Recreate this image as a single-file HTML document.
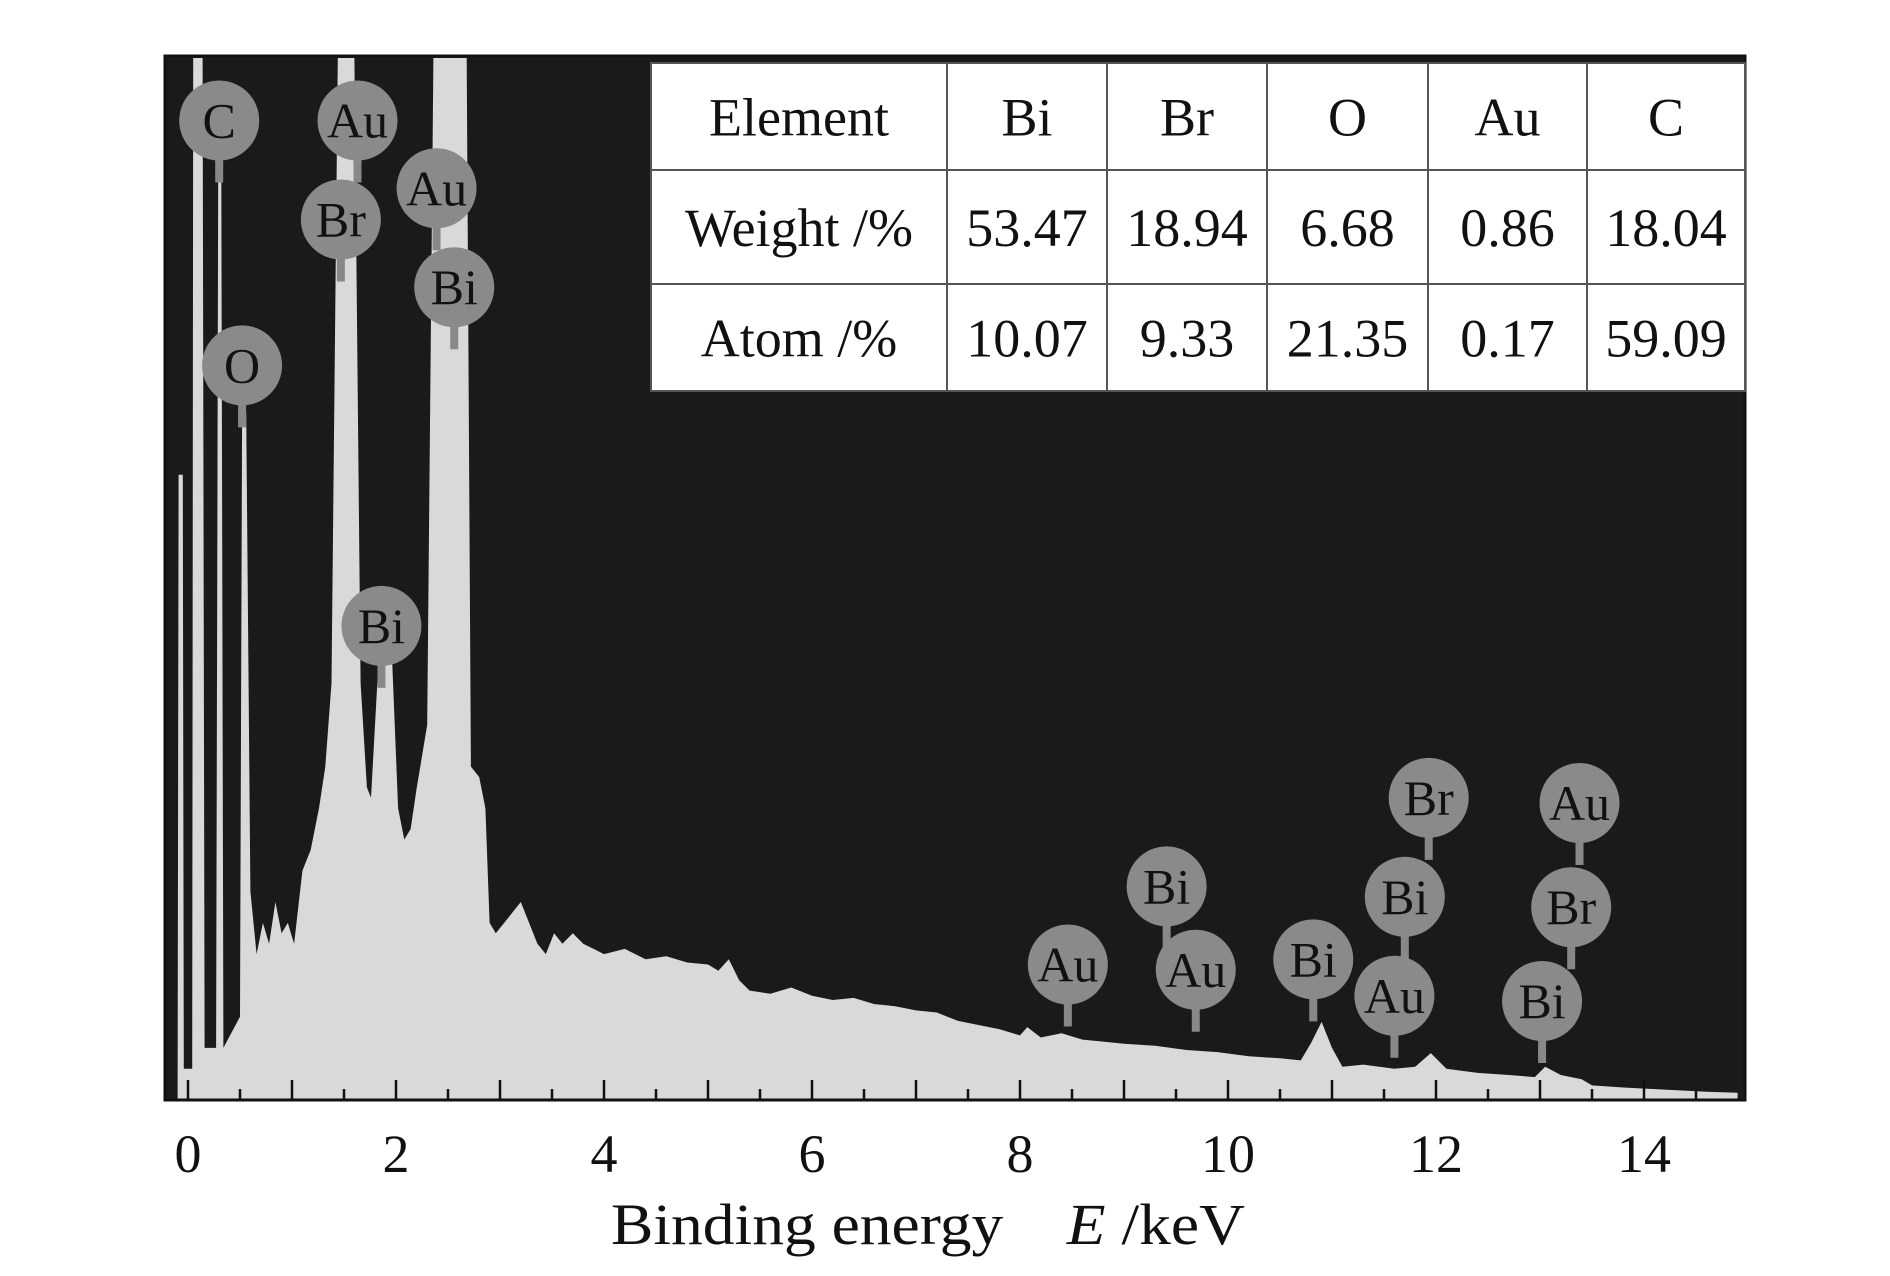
<!DOCTYPE html>
<html><head><meta charset="utf-8">
<style>
html,body{margin:0;padding:0;background:#fff;}
svg{display:block;}
text{font-family:"Liberation Serif",serif;}
</style></head>
<body>
<svg id="chart" width="1890" height="1276" viewBox="0 0 1890 1276"></svg>
<script>
const energies=[-0.1,-0.09,-0.05,-0.04,0.04,0.05,0.14,0.16,0.27,0.29,0.32,0.34,0.5,0.52,0.56,0.6,0.66,0.72,0.78,0.84,0.9,0.96,1.02,1.1,1.18,1.26,1.32,1.38,1.44,1.6,1.66,1.72,1.76,1.82,1.88,1.96,2.02,2.08,2.14,2.2,2.3,2.36,2.68,2.72,2.8,2.86,2.9,2.96,3.04,3.12,3.2,3.28,3.36,3.44,3.52,3.6,3.7,3.8,3.9,4.0,4.2,4.4,4.6,4.8,5.0,5.1,5.2,5.3,5.4,5.6,5.8,6.0,6.2,6.4,6.6,6.8,7.0,7.2,7.4,7.6,7.8,8.0,8.07,8.2,8.4,8.6,8.8,9.0,9.3,9.6,9.9,10.2,10.5,10.7,10.8,10.9,11.0,11.1,11.3,11.6,11.8,11.95,12.1,12.4,12.7,12.95,13.05,13.2,13.4,13.5,13.8,14.2,14.6,14.9];
const counts=[0,60,60,3,3,100,100,5,5,89,89,5,8,66,66,20,14,17,15,19,16,17,15,22,24,28,32,40,100,100,40,30,29,40,43,43,28,25,26,30,36,100,100,32,31,28,17,16,17,18,19,17,15,14,16,15,16,15,14.5,14,14.5,13.5,13.8,13.2,13,12.4,13.5,11.5,10.5,10.2,10.8,10,9.6,9.8,9.2,9.0,8.6,8.4,7.6,7.2,6.8,6.2,7.0,6.0,6.4,5.8,5.6,5.4,5.2,4.8,4.6,4.2,4.0,3.8,5.5,7.5,5.0,3.2,3.4,3.0,3.2,4.5,3.0,2.6,2.4,2.2,3.2,2.4,2.0,1.4,1.2,1.0,0.8,0.7];
const tickLabels=["0","2","4","6","8","10","12","14"];
const peakElements=["C","Au","Br","Au","Bi","O","Bi","Au","Bi","Au","Br","Bi","Bi","Au","Au","Br","Bi"];
const peakEnergies=[0.30,1.63,1.47,2.39,2.56,0.52,1.86,8.46,9.41,9.69,11.93,11.70,10.82,11.6,13.38,13.30,13.02];
const peakLabelHeights=[94,94,84.5,87.5,78,70.5,45.5,13,20.5,12.5,29,19.5,13.5,10,28.5,18.5,9.5];
const tableHeader=["Element","Bi","Br","O","Au","C"];
const tableWeight=["Weight /%","53.47","18.94","6.68","0.86","18.04"];
const tableAtom=["Atom /%","10.07","9.33","21.35","0.17","59.09"];

const NS="http://www.w3.org/2000/svg";
const svg=document.getElementById('chart');
const L=165,T=56,R=1745,B=1100;
const x=e=>188+e*104;
const y=v=>B-(v/100)*(B-T-2);
function mk(tag,attrs,parent){const el=document.createElementNS(NS,tag);for(const k in attrs)el.setAttribute(k,attrs[k]);(parent||svg).appendChild(el);return el;}

const bg=mk('rect',{x:L,y:T,width:R-L,height:B-T,fill:'#1a1a1a'});



let d='M'+x(energies[0])+','+B;
for(let i=0;i<energies.length;i++)d+=' L'+x(energies[i]).toFixed(1)+','+y(counts[i]).toFixed(1);
d+=' L'+x(energies[energies.length-1])+','+B+' Z';
const sp=mk('path',{d:d,fill:'#d9d9d9'});



for(let i=0;i<=29;i++){
  const e=i*0.5;const len=(i%2===0)?20:11;
  const t=mk('line',{x1:x(e),x2:x(e),y1:B,y2:B-len,stroke:'#111','stroke-width':2.5});
  
  
}
const fr=mk('rect',{x:L,y:T,width:R-L,height:B-T,fill:'none',stroke:'#111','stroke-width':3});



tickLabels.forEach((s,i)=>{
  const t=mk('text',{x:x(i*2),y:1172,'font-size':54,'text-anchor':'middle',fill:'#111'});
  t.textContent=s;
  
  
});
const at=mk('text',{x:611,y:1244,'font-size':58,'text-anchor':'start',fill:'#111',textLength:634,lengthAdjust:'spacingAndGlyphs'});
at.innerHTML='Binding energy&#160;&#160;&#160;&#160;<tspan font-style="italic">E</tspan> /keV';



peakElements.forEach((s,i)=>{
  const g=mk('g',{});
  
  
  const cx=x(peakEnergies[i]),cy=y(peakLabelHeights[i]);
  mk('line',{x1:cx,x2:cx,y1:cy,y2:cy+62,stroke:'#888','stroke-width':8},g);
  mk('circle',{cx:cx,cy:cy,r:40,fill:'#8a8a8a'},g);
  const t=mk('text',{x:cx,y:cy+17,'font-size':50,'text-anchor':'middle',fill:'#111'},g);
  t.textContent=s;
});

const cols=[651,947,1107,1267,1428,1587,1745];
const rows=[63,170,284,391];
const tg=mk('g',{});


mk('rect',{x:cols[0],y:rows[0],width:cols[6]-cols[0],height:rows[3]-rows[0],fill:'#fff',stroke:'#555','stroke-width':2},tg);
for(let i=1;i<6;i++)mk('line',{x1:cols[i],x2:cols[i],y1:rows[0],y2:rows[3],stroke:'#555','stroke-width':2},tg);
for(let j=1;j<3;j++)mk('line',{x1:cols[0],x2:cols[6],y1:rows[j],y2:rows[j],stroke:'#555','stroke-width':2},tg);
[tableHeader,tableWeight,tableAtom].forEach((row,j)=>{
  row.forEach((s,i)=>{
    const t=mk('text',{x:(cols[i]+cols[i+1])/2,y:(rows[j]+rows[j+1])/2+19,'font-size':54,'text-anchor':'middle',fill:'#111'},tg);
    if(s.length>5&&i>0){t.setAttribute('textLength',cols[i+1]-cols[i]-10);t.setAttribute('lengthAdjust','spacingAndGlyphs');}
    t.textContent=s;
    
    
  });
});
</script>
</body></html>
